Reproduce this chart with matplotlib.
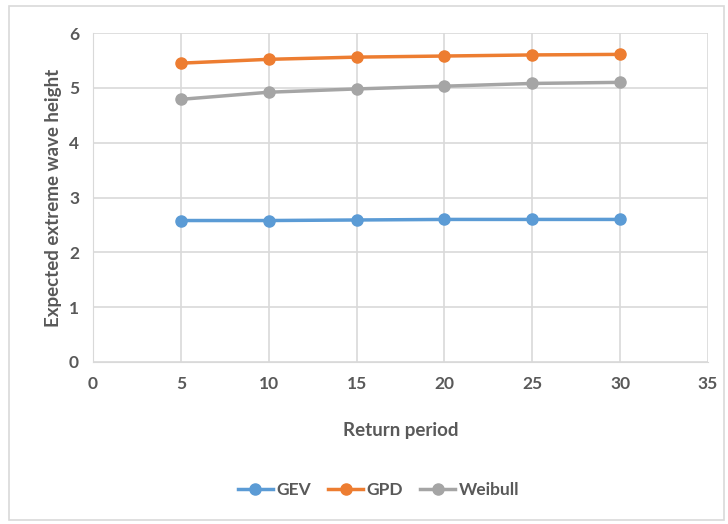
import matplotlib
matplotlib.use("Agg")
import matplotlib.pyplot as plt
from matplotlib.patches import Rectangle

rp=[5,10,15,20,25,30]
gev=[2.58,2.58,2.59,2.60,2.60,2.60]
gpd=[5.45,5.52,5.56,5.58,5.60,5.61]
wei=[4.79,4.92,4.98,5.03,5.08,5.10]

tc="#595959"
plt.rcParams["font.family"]=["Lato","DejaVu Sans"]
plt.rcParams["font.weight"]="bold"

fig=plt.figure(figsize=(7.28,5.24),dpi=100)
fig.patches.append(Rectangle((0.013,0.008),0.982,0.98,transform=fig.transFigure,
	fill=False,edgecolor="#d9d9d9",linewidth=1.2))
ax=fig.add_axes([93/728,1-362/524,615/728,329/524])

ax.plot(rp,gev,color="#5b9bd5",marker="o",markersize=8,linewidth=2.5,label="GEV")
ax.plot(rp,gpd,color="#ed7d31",marker="o",markersize=8,linewidth=2.5,label="GPD")
ax.plot(rp,wei,color="#a5a5a5",marker="o",markersize=8,linewidth=2.5,label="Weibull")

ax.set_xlim(0,35)
ax.set_ylim(0,6)
ax.set_xticks(range(0,36,5))
ax.set_yticks(range(0,7))
ax.grid(True,color="#d9d9d9",linewidth=1.2)
ax.set_axisbelow(True)
for s in ax.spines.values():
	s.set_visible(False)
ax.spines["left"].set_visible(True)
ax.spines["left"].set_color("#d9d9d9")
ax.spines["bottom"].set_visible(True)
ax.spines["bottom"].set_color("#d9d9d9")
ax.tick_params(length=0,labelsize=12.5,colors=tc,pad=10)
for t in ax.get_xticklabels()+ax.get_yticklabels():
	t.set_fontweight("bold")
ax.set_xlabel("Return period",fontsize=13.5,color=tc,fontweight="bold",labelpad=22)
ax.set_ylabel("Expected extreme wave height",fontsize=13.5,color=tc,fontweight="bold",labelpad=5)

fig.legend(loc="center",bbox_to_anchor=(0.52,1-490/524),ncol=3,frameon=False,
	fontsize=12.5,labelcolor=tc,handlelength=2.0,columnspacing=1.0,handletextpad=0.2)

fig.savefig("out.png",dpi=100)
